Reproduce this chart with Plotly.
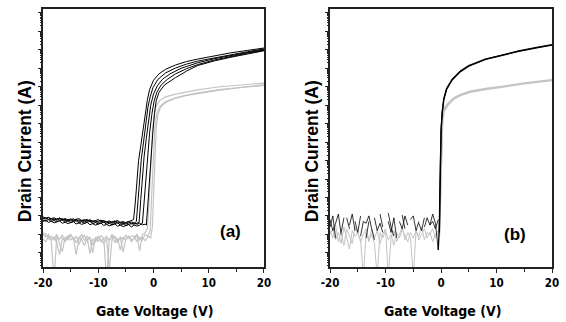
import plotly.graph_objects as go

# ---------------- data (log10 of drain current in A) ----------------
# sweep grid for the off-state region
V_OFF_A = [round(-20 + 0.5 * i, 1) for i in range(33)]   # -20 ... -4
V_OFF_B = [round(-20 + 0.5 * i, 1) for i in range(40)]   # -20 ... -0.5

# panel (a) black curves: off-state readings
A_B1_OFF = [-11.05,-11.12,-11.08,-11.15,-11.10,-11.18,-11.12,-11.20,-11.14,-11.22,-11.16,-11.24,-11.18,-11.15,-11.25,-11.20,-11.28,-11.22,-11.30,-11.24,-11.20,-11.30,-11.26,-11.33,-11.27,-11.35,-11.29,-11.25,-11.36,-11.30,-11.38,-11.32,-11.28]
A_B2_OFF = [-11.15,-11.10,-11.20,-11.14,-11.22,-11.17,-11.12,-11.24,-11.19,-11.26,-11.20,-11.16,-11.28,-11.22,-11.30,-11.24,-11.19,-11.32,-11.26,-11.34,-11.28,-11.23,-11.36,-11.30,-11.38,-11.32,-11.27,-11.40,-11.33,-11.42,-11.35,-11.30,-11.44]
A_B3_OFF = [-11.22,-11.28,-11.20,-11.30,-11.25,-11.32,-11.26,-11.22,-11.34,-11.28,-11.36,-11.30,-11.26,-11.38,-11.32,-11.40,-11.34,-11.29,-11.42,-11.36,-11.44,-11.38,-11.33,-11.46,-11.40,-11.48,-11.42,-11.37,-11.50,-11.44,-11.52,-11.46,-11.41]
A_B4_OFF = [-11.30,-11.25,-11.35,-11.28,-11.38,-11.32,-11.27,-11.40,-11.34,-11.42,-11.36,-11.31,-11.44,-11.38,-11.46,-11.40,-11.35,-11.48,-11.42,-11.50,-11.44,-11.39,-11.52,-11.46,-11.54,-11.48,-11.43,-11.56,-11.50,-11.58,-11.52,-11.47,-11.60]
A_B5_OFF = [-11.12,-11.18,-11.10,-11.22,-11.16,-11.24,-11.18,-11.14,-11.26,-11.20,-11.28,-11.22,-11.18,-11.30,-11.24,-11.32,-11.26,-11.21,-11.34,-11.28,-11.36,-11.30,-11.25,-11.38,-11.32,-11.40,-11.34,-11.29,-11.42,-11.36,-11.44,-11.38,-11.33]

# panel (a) black curves: turn-on and on-state
A_B1_ON_V = [-3.6,-3.3,-3.0,-2.7,-2.3,-1.9,-1.5,-1.1,-0.7,0.0,1.0,2.2,4,6,8,11,14,17,20]
A_B1_ON_L = [-11.2,-10.3,-9.0,-8.0,-7.2,-6.3,-5.4,-4.7,-4.15,-3.65,-3.3,-3.05,-2.82,-2.63,-2.5,-2.32,-2.16,-2.03,-1.9]
A_B2_ON_V = [-3.5,-3.1,-2.8,-2.5,-2.2,-1.8,-1.4,-1.0,-0.6,-0.1,0.8,2.2,4,6,8,11,14,17,20]
A_B2_ON_L = [-11.4,-11.3,-10.2,-8.9,-7.9,-7.0,-6.0,-5.1,-4.55,-4.05,-3.6,-3.25,-2.98,-2.77,-2.61,-2.43,-2.26,-2.1,-1.95]
A_B3_ON_V = [-3.5,-3.0,-2.6,-2.3,-2.0,-1.7,-1.3,-0.9,-0.5,0.0,0.7,1.6,3,5,8,11,14,17,20]
A_B3_ON_L = [-11.45,-11.4,-11.35,-10.1,-8.8,-7.8,-6.8,-5.8,-5.0,-4.4,-3.95,-3.6,-3.3,-3.0,-2.7,-2.48,-2.3,-2.13,-1.98]
A_B4_ON_V = [-3.5,-3.0,-2.5,-2.0,-1.7,-1.4,-1.1,-0.7,-0.3,0.1,0.6,1.4,2.5,4,6,8,11,14,17,20]
A_B4_ON_L = [-11.5,-11.55,-11.5,-11.4,-10.2,-8.8,-7.6,-6.5,-5.5,-4.8,-4.3,-3.9,-3.6,-3.3,-3.02,-2.8,-2.55,-2.35,-2.18,-2.02]
A_B5_ON_V = [-3.5,-3.0,-2.5,-2.0,-1.5,-1.3,-1.0,-0.7,-0.4,-0.1,0.2,0.5,1.0,2.0,4,6,8,11,14,17,20]
A_B5_ON_L = [-11.38,-11.45,-11.4,-11.48,-11.45,-11.5,-10.3,-8.8,-7.6,-6.4,-5.4,-4.75,-4.3,-3.9,-3.5,-3.15,-2.85,-2.6,-2.4,-2.22,-2.05]

# panel (a) grey curves
A_G1_OFF = [-11.90,-12.15,-12.00,-12.35,-14.50,-12.10,-12.25,-12.05,-12.40,-12.15,-12.00,-12.30,-12.10,-12.55,-12.20,-12.05,-12.35,-12.15,-12.60,-12.25,-12.10,-12.40,-12.20,-14.50,-12.30,-12.10,-12.45,-12.20,-12.85,-12.15,-12.30,-12.10,-12.40]
A_G2_OFF = [-12.10,-11.95,-12.25,-12.10,-12.30,-12.00,-12.50,-12.95,-12.15,-12.30,-12.05,-12.20,-13.10,-12.25,-12.00,-12.35,-12.10,-12.25,-13.00,-12.15,-12.40,-12.05,-12.25,-12.10,-12.35,-12.00,-12.20,-12.45,-12.15,-12.30,-12.05,-12.20,-12.10]
A_G3_OFF = [-12.25,-12.40,-12.10,-12.30,-12.15,-12.45,-13.10,-12.20,-12.35,-12.05,-12.30,-12.20,-12.45,-12.15,-12.30,-12.60,-12.20,-13.05,-12.25,-12.40,-12.15,-12.30,-12.50,-12.20,-13.95,-12.25,-12.10,-12.35,-12.20,-12.95,-12.25,-12.15,-12.30]
A_G1_ON_V = [-3.5,-3.0,-2.5,-2.0,-1.5,-1.1,-0.8,-0.6,-0.4,-0.2,0.1,0.5,1.1,2.2,4,6,8,12,16,20]
A_G1_ON_L = [-12.2,-12.05,-12.9,-12.0,-11.9,-11.7,-10.2,-8.7,-7.4,-6.4,-5.6,-5.05,-4.75,-4.55,-4.4,-4.28,-4.17,-4.0,-3.9,-3.8]
A_G2_ON_V = [-3.5,-3.0,-2.5,-2.0,-1.5,-1.0,-0.6,-0.35,-0.15,0.05,0.25,0.6,1.2,2.2,4,6,8,12,16,20]
A_G2_ON_L = [-12.1,-12.4,-12.15,-12.3,-12.0,-12.1,-11.8,-10.0,-8.4,-7.1,-6.2,-5.45,-5.05,-4.8,-4.6,-4.45,-4.33,-4.15,-4.02,-3.9]
A_G3_ON_V = [-3.5,-3.0,-2.5,-2.0,-1.5,-1.0,-0.5,-0.2,0.0,0.15,0.3,0.5,0.8,1.3,2.2,4,6,8,12,16,20]
A_G3_ON_L = [-12.2,-12.0,-12.3,-12.15,-12.35,-12.1,-12.2,-11.6,-10.0,-8.5,-7.2,-6.2,-5.5,-5.1,-4.85,-4.62,-4.47,-4.36,-4.18,-4.04,-3.93]

# panel (b) black curves (None = no reading)
B_K1_OFF = [-11.6,-11.0,-12.2,None,-11.9,-11.1,None,-11.5,-10.9,-11.8,None,-12.1,-11.3,-11.4,-11.0,-11.7,-12.3,None,-10.9,-11.6,None,-11.3,-11.9,-11.1,-12.2,None,-10.95,-11.7,None,-11.2,-11.0,-11.8,-11.3,None,-11.6,-11.1,-11.5,-10.9,-11.4,-12.85]
B_K2_OFF = [-11.2,-11.8,-11.4,-10.9,-12.0,None,-11.1,-11.7,None,-11.3,-11.9,-11.0,None,-12.2,-11.3,None,-11.1,-11.8,-11.4,-11.9,None,-10.85,-11.6,-12.1,None,-11.3,-11.7,-11.0,-11.5,None,-11.2,None,-11.4,-11.8,-11.1,None,-11.5,-11.3,-11.7,-11.2]
B_K1_ON_V = [-0.5,-0.3,-0.2,-0.1,0.0,0.2,0.5,1.0,2.0,3.5,5,8,11,14,17,20]
B_K1_ON_L = [-12.85,-11.6,-9.5,-7.6,-6.4,-5.4,-4.65,-4.1,-3.6,-3.15,-2.85,-2.5,-2.27,-2.06,-1.88,-1.72]
B_K2_ON_V = [-0.3,-0.2,-0.1,0.0,0.2,0.5,1.0,2.0,3.5,5,8,11,14,17,20]
B_K2_ON_L = [-11.9,-9.8,-7.8,-6.5,-5.45,-4.7,-4.15,-3.63,-3.18,-2.88,-2.52,-2.29,-2.08,-1.9,-1.74]

# panel (b) grey curves
B_G1_OFF = [-11.8,-12.2,-11.5,-12.4,-11.9,-12.6,-11.7,-12.1,-12.5,-11.6,-12.0,-12.3,-14.3,-11.9,-12.4,-11.7,-12.2,-11.8,-12.5,-12.0,-11.7,-14.3,-12.2,-11.8,-12.4,-12.0,-11.6,-12.3,-11.9,-12.2,-14.3,-11.8,-12.1,-11.6,-12.3,-11.9,-12.0,-11.7,-12.2,-11.9]
B_G2_OFF = [-12.0,-11.7,-12.3,-11.9,-12.5,-11.6,-12.2,-12.8,-11.8,-12.1,-11.9,-12.4,-12.0,-11.7,-12.3,-12.0,-12.5,-14.3,-11.9,-12.2,-11.8,-12.3,-12.0,-12.6,-11.9,-12.2,-11.7,-12.1,-12.4,-11.9,-12.2,-11.8,-12.3,-12.0,-11.7,-12.2,-11.9,-12.4,-12.0,-11.8]
B_G1_ON_V = [-0.3,-0.15,0.0,0.1,0.25,0.5,1.1,2.3,3.5,5.25,8,11.2,15,20]
B_G1_ON_L = [-12.0,-10.0,-7.8,-6.6,-5.7,-5.2,-4.95,-4.6,-4.42,-4.25,-4.1,-3.98,-3.8,-3.62]
B_G2_ON_V = [-0.3,-0.1,0.05,0.15,0.3,0.6,1.2,2.3,3.5,5.25,8,11.2,15,20]
B_G2_ON_L = [-12.1,-9.6,-7.5,-6.5,-5.75,-5.3,-5.02,-4.66,-4.48,-4.3,-4.14,-4.01,-3.84,-3.66]

X_TICKS = [-20, -10, 0, 10, 20]
X_TICK_TEXT = ["-20", "-10", "0", "10", "20"]

BLACK = "#000000"
GREY = "#c4c4c4"

fig = go.Figure()


def add(xs, logs, color, width, ax):
    ys = [None if v is None else 10 ** v for v in logs]
    fig.add_trace(go.Scatter(
        x=xs, y=ys, mode="lines", line=dict(color=color, width=width),
        xaxis="x" if ax == 1 else "x2", yaxis="y" if ax == 1 else "y2",
        showlegend=False, hoverinfo="skip", connectgaps=False))


# panel (a): grey first, black on top
for off, v_on, l_on in [(A_G1_OFF, A_G1_ON_V, A_G1_ON_L),
                        (A_G2_OFF, A_G2_ON_V, A_G2_ON_L),
                        (A_G3_OFF, A_G3_ON_V, A_G3_ON_L)]:
    add(V_OFF_A + v_on, off + l_on, GREY, 1.2, 1)
for off, v_on, l_on in [(A_B1_OFF, A_B1_ON_V, A_B1_ON_L),
                        (A_B2_OFF, A_B2_ON_V, A_B2_ON_L),
                        (A_B3_OFF, A_B3_ON_V, A_B3_ON_L),
                        (A_B4_OFF, A_B4_ON_V, A_B4_ON_L),
                        (A_B5_OFF, A_B5_ON_V, A_B5_ON_L)]:
    add(V_OFF_A + v_on, off + l_on, BLACK, 1.0, 1)

# panel (b): noisy off-state drawn thin, on-state drawn thicker
for off in [B_G1_OFF, B_G2_OFF]:
    add(V_OFF_B, off, GREY, 1.0, 2)
for v_on, l_on in [(B_G1_ON_V, B_G1_ON_L), (B_G2_ON_V, B_G2_ON_L)]:
    add(v_on, l_on, GREY, 1.6, 2)
for off in [B_K1_OFF, B_K2_OFF]:
    add(V_OFF_B, off, BLACK, 0.8, 2)
for v_on, l_on in [(B_K1_ON_V, B_K1_ON_L), (B_K2_ON_V, B_K2_ON_L)]:
    add(v_on, l_on, BLACK, 1.3, 2)

NARROW = "Liberation Sans Narrow, DejaVu Sans Condensed, Roboto Condensed, Liberation Sans, Arial"
AX_COL = "#222222"

xcommon = dict(range=[-20, 20], tickmode="array", tickvals=X_TICKS, ticktext=X_TICK_TEXT,
               ticks="outside", ticklen=4, tickwidth=1.2, tickcolor=AX_COL,
               showline=True, linecolor=AX_COL, linewidth=1.5, mirror=True,
               showgrid=False, zeroline=False,
               tickfont=dict(family=NARROW, size=11.5, color="black", weight="bold"),
               minor=dict(tickvals=[-15, -5, 5, 15], ticks="outside", ticklen=3,
                          tickcolor=AX_COL, tickwidth=1.2, showgrid=False))
ycommon = dict(type="log", range=[-13.77, 0.215], dtick=1, ticks="outside", ticklen=3,
               tickwidth=1, tickcolor=AX_COL, showticklabels=False,
               showline=True, linecolor=AX_COL, linewidth=1.5, mirror=True,
               showgrid=False, zeroline=False,
               minor=dict(ticks="outside", ticklen=1.5, tickcolor=AX_COL, showgrid=False))

DOM_A = [0.0, (267 - 43) / 516]
DOM_B = [(334 - 43) / 516, 1.0]

fig.update_layout(
    width=566, height=322,
    margin=dict(l=43, r=7, t=7, b=55),
    paper_bgcolor="white", plot_bgcolor="white",
    xaxis=dict(domain=DOM_A, anchor="y", **xcommon),
    yaxis=dict(domain=[0, 1], anchor="x", **ycommon),
    xaxis2=dict(domain=DOM_B, anchor="y2", **xcommon),
    yaxis2=dict(domain=[0, 1], anchor="x2", **ycommon),
)

title_font_x = dict(family=NARROW, size=14, color="black", weight="bold")
title_font_y = dict(family="Liberation Sans, Arial", size=17.5, color="black", weight="bold")
label_font = dict(family="Liberation Sans, Arial", size=17, color="black", weight="bold")

ann = []
for xc in [(156 - 43) / 516, (448 - 43) / 516]:
    ann.append(dict(x=xc, y=(267 - 311) / 260, xref="paper", yref="paper",
                    text="Gate Voltage (V)", showarrow=False, font=title_font_x,
                    xanchor="center", yanchor="middle"))
for xc in [(25 - 43) / 516, (316 - 43) / 516]:
    ann.append(dict(x=xc, y=(267 - 150) / 260, xref="paper", yref="paper",
                    text="Drain Current (A)", showarrow=False, font=title_font_y,
                    textangle=-90, xanchor="center", yanchor="middle"))
ann.append(dict(x=(233 - 43) / 516, y=(267 - 231) / 260, xref="paper", yref="paper",
                text="(a)", showarrow=False, font=label_font, xanchor="center", yanchor="middle"))
ann.append(dict(x=(521 - 43) / 516, y=(267 - 234) / 260, xref="paper", yref="paper",
                text="(b)", showarrow=False, font=label_font, xanchor="center", yanchor="middle"))
fig.update_layout(annotations=ann)

fig.write_html("out.html", config={"displayModeBar": False},
               post_script="document.body.style.margin='0';document.body.style.overflow='hidden';")
